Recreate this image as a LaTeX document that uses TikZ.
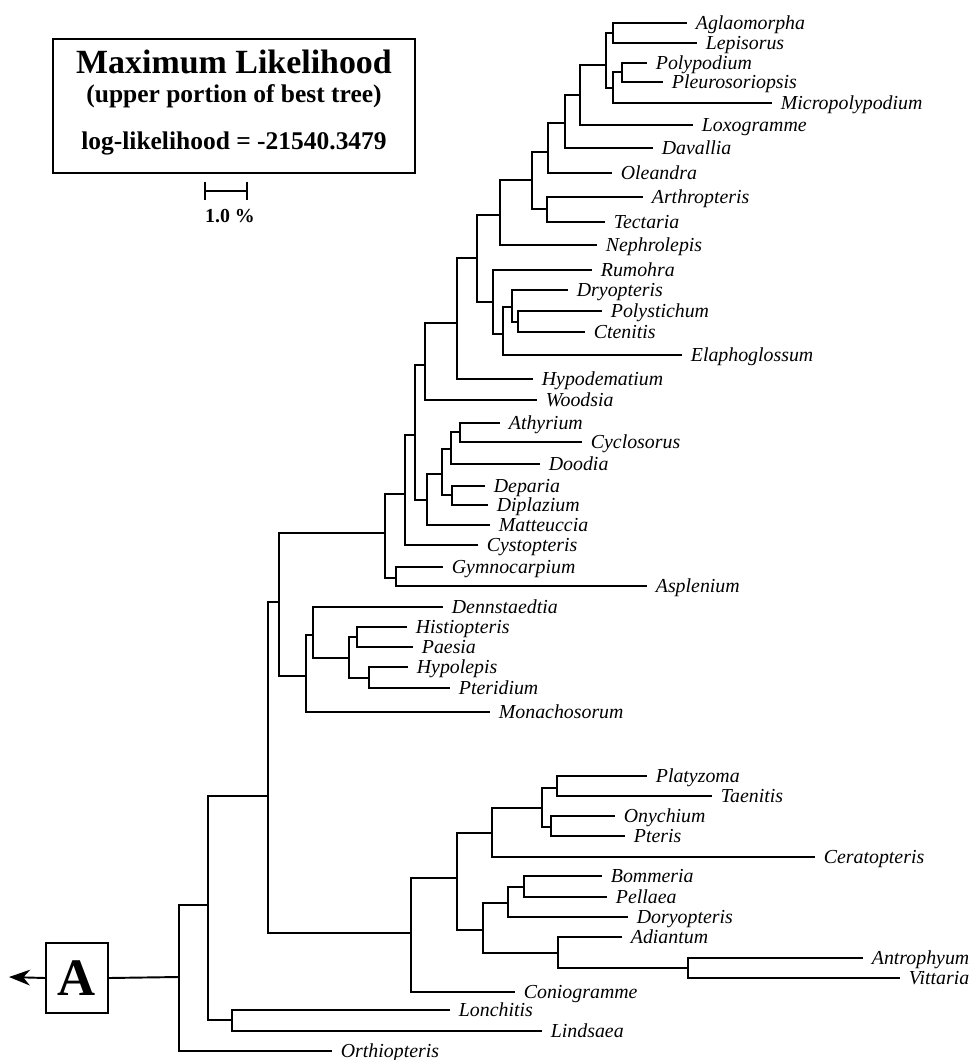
\documentclass[tikz,border=0pt]{standalone}
\usepackage{fontspec}
\setmainfont{Liberation Serif}
\usetikzlibrary{arrows.meta}

\begin{document}
\begin{tikzpicture}[x=0.02cm,y=-0.02cm,line width=1.1pt,
	taxon/.style={anchor=west,inner xsep=4.5pt,inner ysep=0pt,text height=7.4pt,text depth=0pt,
		font=\fontsize{11.3}{13}\selectfont\itshape}]
	\useasboundingbox (0,0) rectangle (969,1060);

	% legend box and scale
	\node[draw,minimum width=7.24cm,minimum height=2.68cm,inner sep=0pt] (mlbox) at (234,106) {};
	\node[anchor=base,font=\fontsize{19.3}{22}\selectfont\bfseries] (mltitle) at (234,74) {Maximum Likelihood};
	\node[anchor=base,font=\fontsize{14.5}{17}\selectfont\bfseries] (mlsub) at (234,103) {(upper portion of best tree)};
	\node[anchor=base,font=\fontsize{14.5}{17}\selectfont\bfseries] (mllog) at (234,150) {log-likelihood = -21540.3479};
	\coordinate (barl) at (205,191);
	\coordinate (barr) at (247,191);
	\draw (barl) -- (barr);
	\draw (barl) ++(0,-9) -- ++(0,18);
	\draw (barr) ++(0,-9) -- ++(0,18);
	\node[anchor=base,font=\fontsize{11.3}{13}\selectfont\bfseries] (barlabel) at (230,223) {1.0 \%};

	% taxa
	\node[taxon] (aglaomorpha) at (687,23) {Aglaomorpha};
	\node[taxon] (lepisorus) at (697,43) {Lepisorus};
	\node[taxon] (polypodium) at (647,63) {Polypodium};
	\node[taxon] (pleurosoriopsis) at (663,82) {Pleurosoriopsis};
	\node[taxon] (micropolypodium) at (772,103) {Micropolypodium};
	\node[taxon] (loxogramme) at (693,125) {Loxogramme};
	\node[taxon] (davallia) at (653,148) {Davallia};
	\node[taxon] (oleandra) at (612,173) {Oleandra};
	\node[taxon] (arthropteris) at (643,197) {Arthropteris};
	\node[taxon] (tectaria) at (605,222) {Tectaria};
	\node[taxon] (nephrolepis) at (597,245) {Nephrolepis};
	\node[taxon] (rumohra) at (592,270) {Rumohra};
	\node[taxon] (dryopteris) at (568,290) {Dryopteris};
	\node[taxon] (polystichum) at (602,311) {Polystichum};
	\node[taxon] (ctenitis) at (585,332) {Ctenitis};
	\node[taxon] (elaphoglossum) at (682,355) {Elaphoglossum};
	\node[taxon] (hypodematium) at (533,379) {Hypodematium};
	\node[taxon] (woodsia) at (537,400) {Woodsia};
	\node[taxon] (athyrium) at (500,423) {Athyrium};
	\node[taxon] (cyclosorus) at (582,442) {Cyclosorus};
	\node[taxon] (doodia) at (540,464) {Doodia};
	\node[taxon] (deparia) at (485,486) {Deparia};
	\node[taxon] (diplazium) at (488,505) {Diplazium};
	\node[taxon] (matteuccia) at (490,525) {Matteuccia};
	\node[taxon] (cystopteris) at (478,545) {Cystopteris};
	\node[taxon] (gymnocarpium) at (443,567) {Gymnocarpium};
	\node[taxon] (asplenium) at (647,586) {Asplenium};
	\node[taxon] (dennstaedtia) at (443,607) {Dennstaedtia};
	\node[taxon] (histiopteris) at (407,627) {Histiopteris};
	\node[taxon] (paesia) at (413,647) {Paesia};
	\node[taxon] (hypolepis) at (408,667) {Hypolepis};
	\node[taxon] (pteridium) at (450,688) {Pteridium};
	\node[taxon] (monachosorum) at (490,712) {Monachosorum};
	\node[taxon] (platyzoma) at (647,776) {Platyzoma};
	\node[taxon] (taenitis) at (712,796) {Taenitis};
	\node[taxon] (onychium) at (615,816) {Onychium};
	\node[taxon] (pteris) at (625,836) {Pteris};
	\node[taxon] (ceratopteris) at (815,857) {Ceratopteris};
	\node[taxon] (bommeria) at (602,876) {Bommeria};
	\node[taxon] (pellaea) at (607,897) {Pellaea};
	\node[taxon] (doryopteris) at (628,917) {Doryopteris};
	\node[taxon] (adiantum) at (622,937) {Adiantum};
	\node[taxon] (antrophyum) at (863,958) {Antrophyum};
	\node[taxon] (vittaria) at (900,978) {Vittaria};
	\node[taxon] (coniogramme) at (515,992) {Coniogramme};
	\node[taxon] (lonchitis) at (450,1010) {Lonchitis};
	\node[taxon] (lindsaea) at (542,1031) {Lindsaea};
	\node[taxon] (orthiopteris) at (332,1051) {Orthiopteris};

	% internal nodes
	\coordinate (c-aglep) at (613,33);
	\coordinate (c-polple) at (622,72);
	\coordinate (c-polmic) at (613,88);
	\coordinate (c-polyp) at (606,65);
	\coordinate (c-lox) at (580,95);
	\coordinate (c-dav) at (565,123);
	\coordinate (c-ole) at (548,152);
	\coordinate (c-arttec) at (547,209);
	\coordinate (c-davall) at (532,180);
	\coordinate (c-neph) at (500,215);
	\coordinate (c-ctepol) at (518,322);
	\coordinate (c-dry) at (512,307);
	\coordinate (c-ela) at (503,334);
	\coordinate (c-rum) at (493,302);
	\coordinate (c-eupoly) at (477,258);
	\coordinate (c-hyp) at (457,323);
	\coordinate (c-woo) at (425,365);
	\coordinate (c-athcyc) at (460,432);
	\coordinate (c-doo) at (451,449);
	\coordinate (c-depdip) at (452,495);
	\coordinate (c-athyr) at (442,474);
	\coordinate (c-mat) at (427,500);
	\coordinate (c-eupolyp) at (415,435);
	\coordinate (c-cys) at (405,494);
	\coordinate (c-gymasp) at (396,578);
	\coordinate (c-eup) at (385,533);
	\coordinate (c-hispae) at (357,637);
	\coordinate (c-hyppte) at (369,678);
	\coordinate (c-dennst) at (349,658);
	\coordinate (c-den) at (313,635);
	\coordinate (c-mon) at (306,676);
	\coordinate (c-upper) at (279,602);
	\coordinate (c-plataen) at (557,788);
	\coordinate (c-onypte) at (551,827);
	\coordinate (c-pter) at (542,808);
	\coordinate (c-cer) at (492,833);
	\coordinate (c-bompel) at (524,887);
	\coordinate (c-dor) at (508,903);
	\coordinate (c-antvit) at (688,968);
	\coordinate (c-adi) at (558,953);
	\coordinate (c-chei) at (483,930);
	\coordinate (c-pteri) at (457,878);
	\coordinate (c-con) at (411,933);
	\coordinate (c-core) at (268,796);
	\coordinate (c-lonlin) at (232,1020);
	\coordinate (c-crown) at (208,905);
	\coordinate (c-root) at (179,977);
	\coordinate (outgroup) at (9,977);

	% branches
	\draw (c-aglep) |- (aglaomorpha.west) (c-aglep) |- (lepisorus.west);
	\draw (c-polple) |- (polypodium.west) (c-polple) |- (pleurosoriopsis.west);
	\draw (c-polmic) |- (c-polple) (c-polmic) |- (micropolypodium.west);
	\draw (c-polyp) |- (c-aglep) (c-polyp) |- (c-polmic);
	\draw (c-lox) |- (c-polyp) (c-lox) |- (loxogramme.west);
	\draw (c-dav) |- (c-lox) (c-dav) |- (davallia.west);
	\draw (c-ole) |- (c-dav) (c-ole) |- (oleandra.west);
	\draw (c-arttec) |- (arthropteris.west) (c-arttec) |- (tectaria.west);
	\draw (c-davall) |- (c-ole) (c-davall) |- (c-arttec);
	\draw (c-neph) |- (c-davall) (c-neph) |- (nephrolepis.west);
	\draw (c-ctepol) |- (polystichum.west) (c-ctepol) |- (ctenitis.west);
	\draw (c-dry) |- (dryopteris.west) (c-dry) |- (c-ctepol);
	\draw (c-ela) |- (c-dry) (c-ela) |- (elaphoglossum.west);
	\draw (c-rum) |- (rumohra.west) (c-rum) |- (c-ela);
	\draw (c-eupoly) |- (c-neph) (c-eupoly) |- (c-rum);
	\draw (c-hyp) |- (c-eupoly) (c-hyp) |- (hypodematium.west);
	\draw (c-woo) |- (c-hyp) (c-woo) |- (woodsia.west);
	\draw (c-athcyc) |- (athyrium.west) (c-athcyc) |- (cyclosorus.west);
	\draw (c-doo) |- (c-athcyc) (c-doo) |- (doodia.west);
	\draw (c-depdip) |- (deparia.west) (c-depdip) |- (diplazium.west);
	\draw (c-athyr) |- (c-doo) (c-athyr) |- (c-depdip);
	\draw (c-mat) |- (c-athyr) (c-mat) |- (matteuccia.west);
	\draw (c-eupolyp) |- (c-woo) (c-eupolyp) |- (c-mat);
	\draw (c-cys) |- (c-eupolyp) (c-cys) |- (cystopteris.west);
	\draw (c-gymasp) |- (gymnocarpium.west) (c-gymasp) |- (asplenium.west);
	\draw (c-eup) |- (c-cys) (c-eup) |- (c-gymasp);
	\draw (c-hispae) |- (histiopteris.west) (c-hispae) |- (paesia.west);
	\draw (c-hyppte) |- (hypolepis.west) (c-hyppte) |- (pteridium.west);
	\draw (c-dennst) |- (c-hispae) (c-dennst) |- (c-hyppte);
	\draw (c-den) |- (dennstaedtia.west) (c-den) |- (c-dennst);
	\draw (c-mon) |- (c-den) (c-mon) |- (monachosorum.west);
	\draw (c-upper) |- (c-eup) (c-upper) |- (c-mon);
	\draw (c-plataen) |- (platyzoma.west) (c-plataen) |- (taenitis.west);
	\draw (c-onypte) |- (onychium.west) (c-onypte) |- (pteris.west);
	\draw (c-pter) |- (c-plataen) (c-pter) |- (c-onypte);
	\draw (c-cer) |- (c-pter) (c-cer) |- (ceratopteris.west);
	\draw (c-bompel) |- (bommeria.west) (c-bompel) |- (pellaea.west);
	\draw (c-dor) |- (c-bompel) (c-dor) |- (doryopteris.west);
	\draw (c-antvit) |- (antrophyum.west) (c-antvit) |- (vittaria.west);
	\draw (c-adi) |- (adiantum.west) (c-adi) |- (c-antvit);
	\draw (c-chei) |- (c-dor) (c-chei) |- (c-adi);
	\draw (c-pteri) |- (c-cer) (c-pteri) |- (c-chei);
	\draw (c-con) |- (c-pteri) (c-con) |- (coniogramme.west);
	\draw (c-core) |- (c-upper) (c-core) |- (c-con);
	\draw (c-lonlin) |- (lonchitis.west) (c-lonlin) |- (lindsaea.west);
	\draw (c-crown) |- (c-core) (c-crown) |- (c-lonlin);
	\draw (c-root) |- (c-crown) (c-root) |- (orthiopteris.west);

	% outgroup box
	\node[draw,minimum width=1.24cm,minimum height=1.4cm,inner sep=0pt,font=\fontsize{30}{30}\selectfont\bfseries] (abox) at (77,978) {A};
	\draw (c-root) -- (abox.east);
	\draw[-{Stealth[length=12pt,width=9pt]}] (abox.west) -- (outgroup);
\end{tikzpicture}
\end{document}
